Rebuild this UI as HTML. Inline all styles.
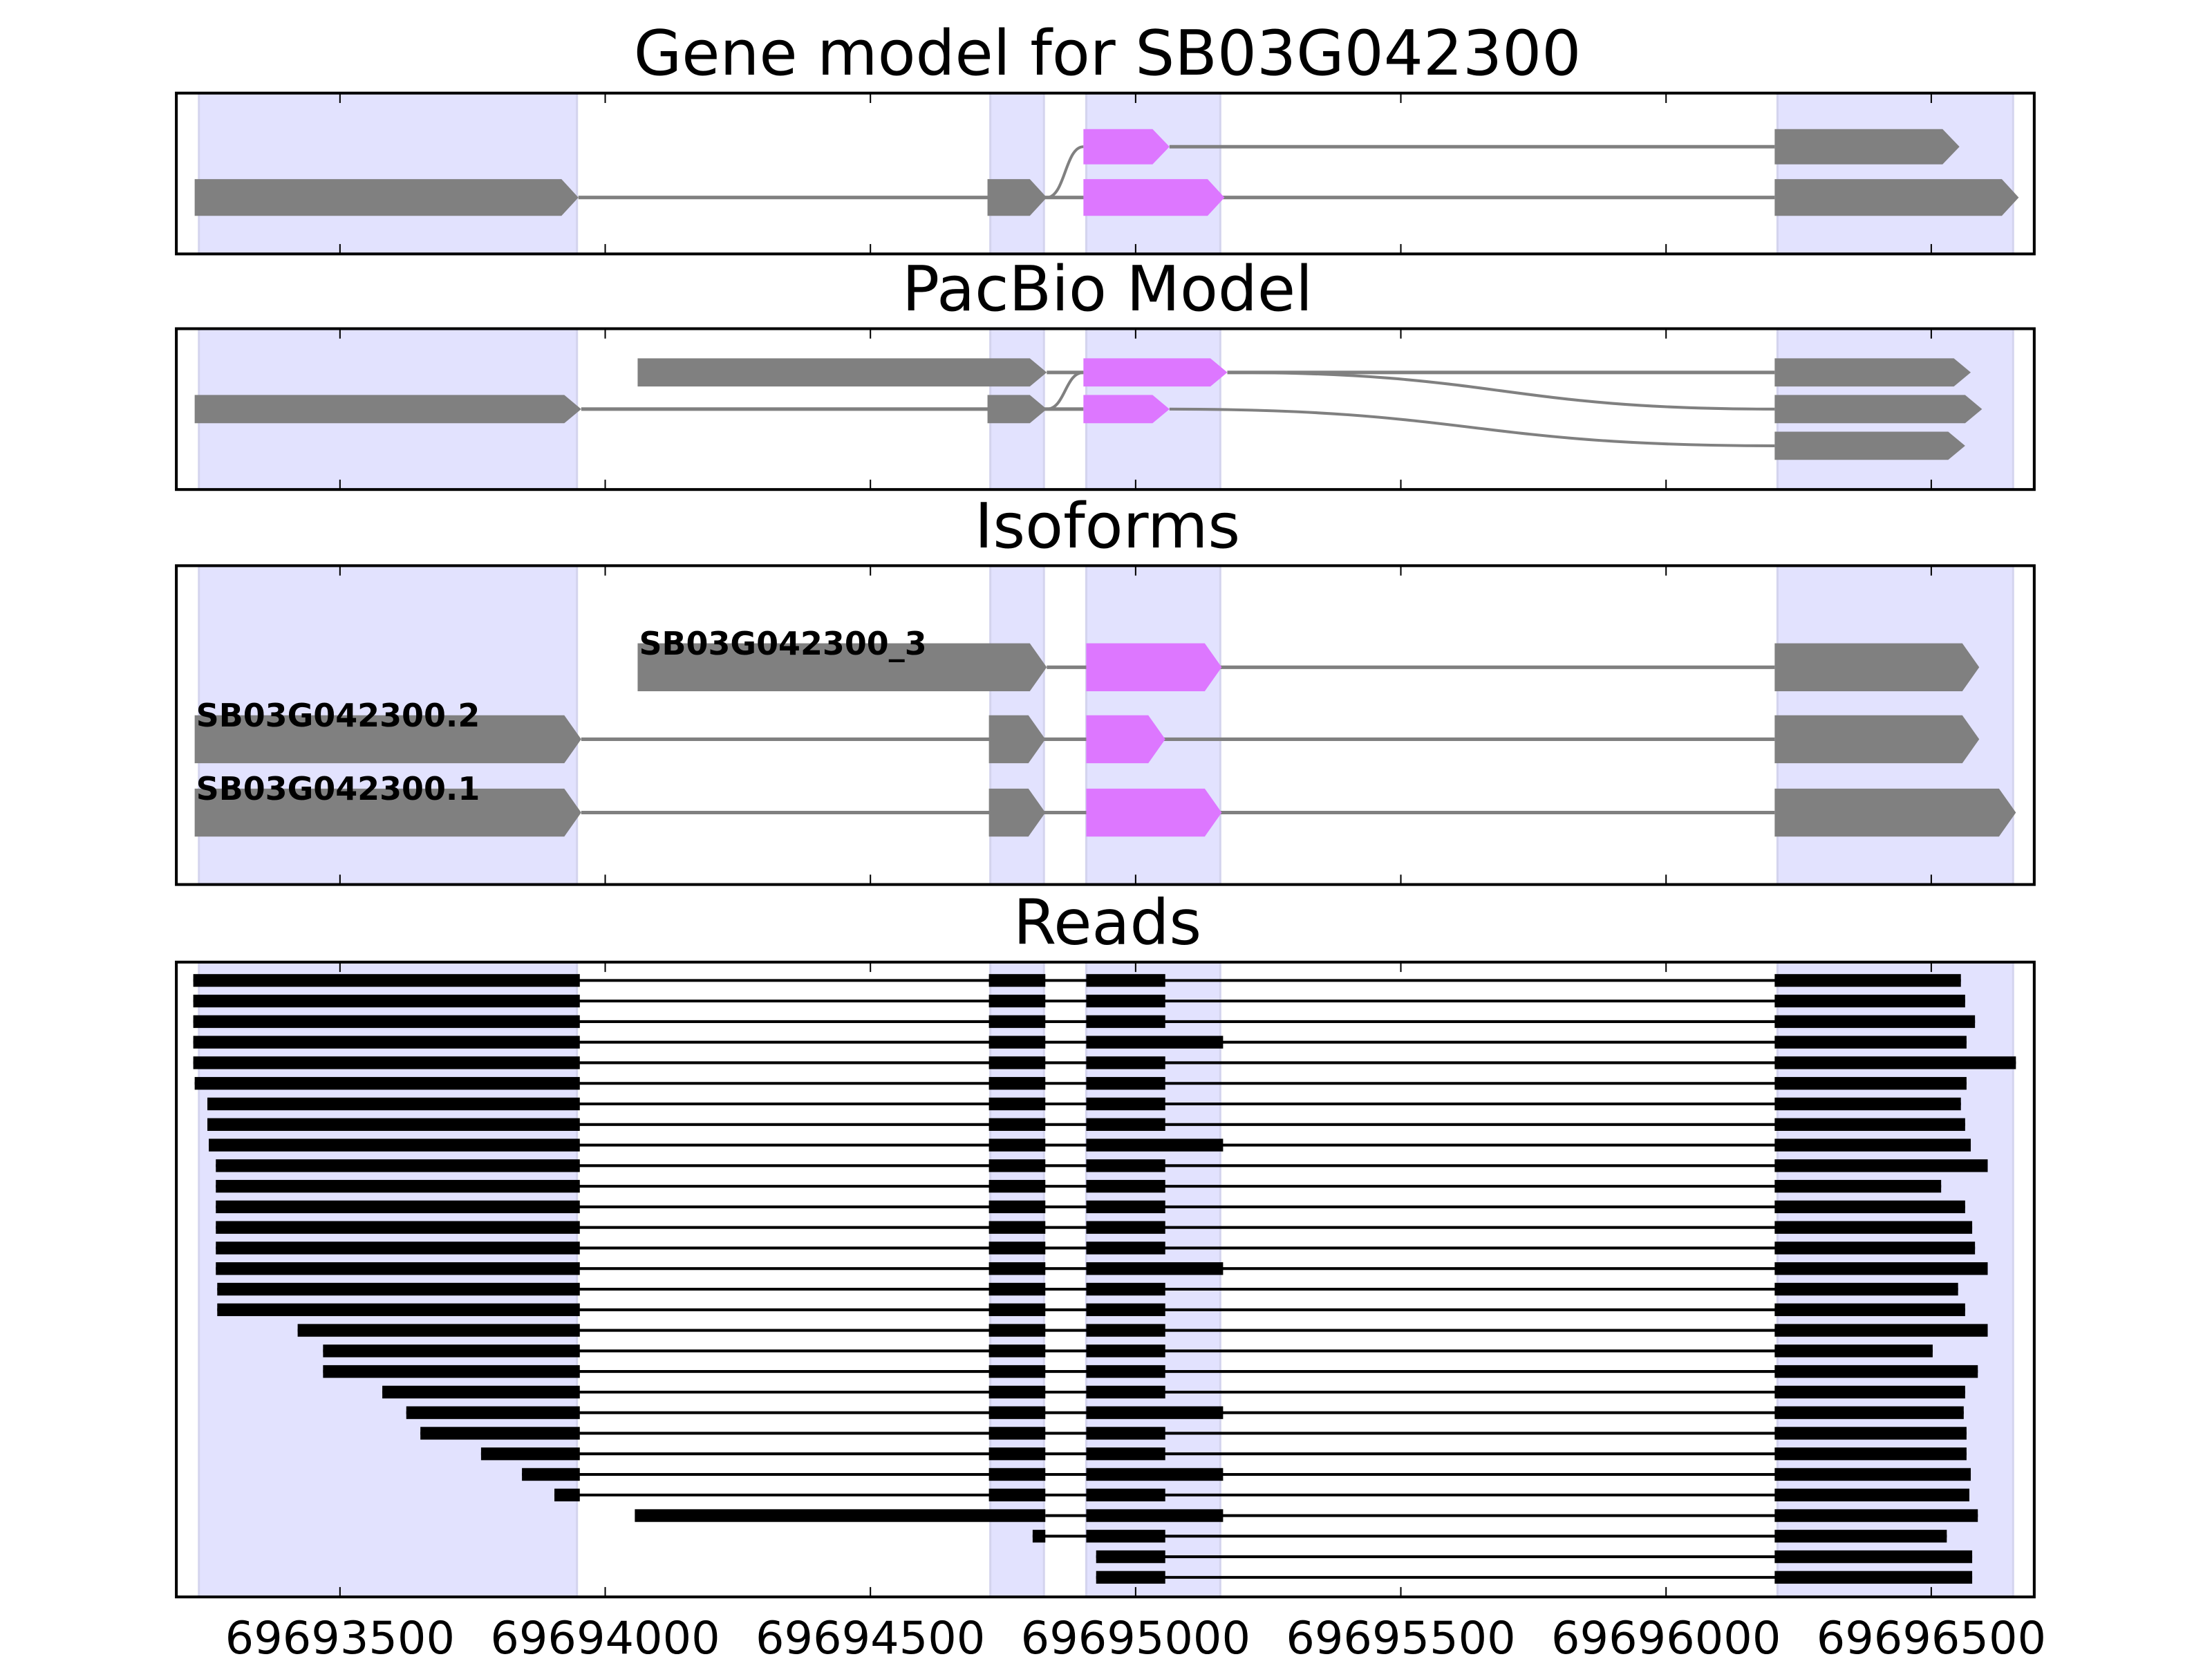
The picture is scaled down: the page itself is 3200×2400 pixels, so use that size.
<!DOCTYPE html>
<html><head><meta charset="utf-8"><style>html,body{margin:0;padding:0;background:#fff}svg{display:block}</style></head>
<body>
<svg id="s" width="3200" height="2400" viewBox="0 0 1568 1176" xmlns="http://www.w3.org/2000/svg" font-family="'DejaVu Sans','Liberation Sans',sans-serif">
</svg>
<script>
const s=document.getElementById('s');let h='';
const G='#808080',P='#dd77ff';
const panels=[[66,180,'Gene model for SB03G042300',53],[233,347,'PacBio Model',220],[401,627,'Isoforms',388],[682,1132,'Reads',669]];
const shades=[[141,409],[702,740],[770,865],[1260,1427]];
const ticks=[241,429,617,805,993,1181,1369];
function arrow(x1,x2,y,hh,c){const t=Math.min(12,(x2-x1)*0.4);return `<path d="M${x1} ${y-hh/2}H${x2-t}L${x2} ${y}L${x2-t} ${y+hh/2}H${x1}Z" fill="${c}"/>`;}
function line(x1,y1,x2,y2,c,w){return `<line x1="${x1}" y1="${y1}" x2="${x2}" y2="${y2}" stroke="${c}" stroke-width="${w}"/>`;}
function curve(x1,y1,x2,y2){const m=(x2-x1)/2;return `<path d="M${x1} ${y1}C${x1+m} ${y1} ${x2-m} ${y2} ${x2} ${y2}" fill="none" stroke="${G}" stroke-width="2"/>`;}
for(const [t,b,title,ty] of panels){
 h+=`<text x="785" y="${ty}" font-size="44" text-anchor="middle">${title}</text>`;
 for(const [a,c] of shades) h+=`<rect x="${a}" y="${t}" width="${c-a}" height="${b-t}" fill="#e2e2fe" stroke="#d4d4ee" stroke-width="1.5"/>`;
}
h+=line(410,140,1258,140,G,2.5)+line(829,104,1258,104,G,2.5)+curve(742,140,768,104);
h+=arrow(138,410,140,26,G)+arrow(700,742,140,26,G)+arrow(768,868,140,26,P)+arrow(1258,1431,140,26,G);
h+=arrow(768,829,104,25,P)+arrow(1258,1389,104,25,G);
h+=line(742,264,768,264,G,2.5)+line(870,264,1258,264,G,2.5)+line(412,290,768,290,G,2.5);
h+=curve(742,290,768,264)+curve(870,264,1258,290)+curve(829,290,1258,316);
h+=arrow(452,742,264,20,G)+arrow(768,870,264,20,P)+arrow(1258,1397,264,20,G);
h+=arrow(138,412,290,20,G)+arrow(700,742,290,20,G)+arrow(768,829,290,20,P)+arrow(1258,1405,290,20,G);
h+=arrow(1258,1393,316,20,G);
const iso=[[473,[[452,742,G],[770,866,P],[1258,1403,G]],'SB03G042300_3',453],
[524,[[138,412,G],[701,741,G],[770,826,P],[1258,1403,G]],'SB03G042300.2',139],
[576,[[138,412,G],[701,741,G],[770,866,P],[1258,1429,G]],'SB03G042300.1',139]];
for(const [y,ex,lab,lx] of iso){h+=line(ex[0][1],y,1258,y,G,2.5);for(const e of ex)h+=arrow(e[0],e[1],y,34,e[2]);
 h+=`<text x="${lx}" y="${y-9}" font-size="22.5" font-weight="bold">${lab}</text>`;}
const R=[[137,826,1390],[137,826,1393],[137,826,1400],[137,867,1394],[137,826,1429],[138,826,1394],[147,826,1390],[147,826,1393],[148,867,1397],[153,826,1409],[153,826,1376],[153,826,1393],[153,826,1398],[153,826,1400],[153,867,1409],[154,826,1388],[154,826,1393],[211,826,1409],[229,826,1370],[229,826,1402],[271,826,1393],[288,867,1392],[298,826,1394],[341,826,1394],[370,867,1397],[393,826,1396]];
const bh=9,bo=4.5;
R.forEach((r,i)=>{const y=695+i*14.59;h+=line(r[0],y,r[2],y,'#000',2);
 h+=`<rect x="${r[0]}" y="${y-bo}" width="${411-r[0]}" height="${bh}"/><rect x="701" y="${y-bo}" width="40" height="${bh}"/><rect x="770" y="${y-bo}" width="${r[1]-770}" height="${bh}"/><rect x="1258" y="${y-bo}" width="${r[2]-1258}" height="${bh}"/>`;});
let y=695+26*14.59;
h+=line(741,y,1402,y,'#000',2)+`<rect x="450" y="${y-bo}" width="291" height="${bh}"/><rect x="770" y="${y-bo}" width="97" height="${bh}"/><rect x="1258" y="${y-bo}" width="144" height="${bh}"/>`;
y=695+27*14.59;h+=line(732,y,1380,y,'#000',2)+`<rect x="732" y="${y-bo}" width="9" height="${bh}"/><rect x="770" y="${y-bo}" width="56" height="${bh}"/><rect x="1258" y="${y-bo}" width="122" height="${bh}"/>`;
for(const k of [28,29]){y=695+k*14.59;h+=line(777,y,1398,y,'#000',2)+`<rect x="777" y="${y-bo}" width="49" height="${bh}"/><rect x="1258" y="${y-bo}" width="140" height="${bh}"/>`;}
for(const [t,b] of panels){
 h+=`<rect x="125" y="${t}" width="1317" height="${b-t}" fill="none" stroke="#000" stroke-width="2"/>`;
 for(const x of ticks)h+=line(x,t,x,t+7,'#000',1)+line(x,b,x,b-7,'#000',1);
}
for(const x of ticks)h+=`<text x="${x}" y="1172" font-size="32" text-anchor="middle">${69693500+(x-241)/188*500}</text>`;
s.innerHTML=h;
</script>
</body></html>
